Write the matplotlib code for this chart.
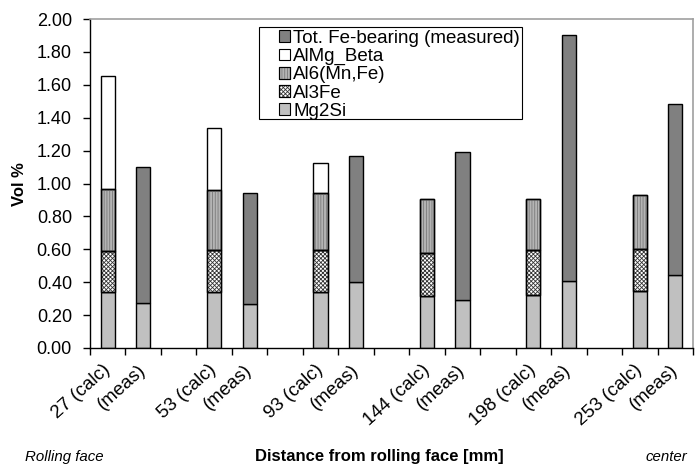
import matplotlib
matplotlib.use("Agg")
import matplotlib.pyplot as plt
import numpy as np
from matplotlib.patches import Patch, Rectangle
from matplotlib.legend_handler import HandlerTuple

plt.rcParams['font.family'] = ['Liberation Sans', 'DejaVu Sans']
plt.rcParams['hatch.linewidth'] = 0.6

labels = ["27 (calc)", "(meas)", "", "53 (calc)", "(meas)", "",
          "93 (calc)", "(meas)", "", "144 (calc)", "(meas)", "",
          "198 (calc)", "(meas)", "", "253 (calc)", "(meas)"]

mg2si = [0.342, 0.272, 0, 0.342, 0.267, 0, 0.338, 0.399, 0,
         0.314, 0.292, 0, 0.320, 0.405, 0, 0.345, 0.442]
al3fe = [0.250, 0, 0, 0.254, 0, 0, 0.258, 0, 0,
         0.262, 0, 0, 0.274, 0, 0, 0.259, 0]
al6 = [0.373, 0, 0, 0.362, 0, 0, 0.346, 0, 0,
       0.332, 0, 0, 0.310, 0, 0, 0.328, 0]
beta = [0.687, 0, 0, 0.379, 0, 0, 0.185, 0, 0,
        0, 0, 0, 0, 0, 0, 0, 0]
tot_fe = [0, 0.826, 0, 0, 0.675, 0, 0, 0.768, 0,
          0, 0.898, 0, 0, 1.498, 0, 0, 1.043]

series = [
    ("Mg2Si", mg2si, "#c0c0c0", None, None),
    ("Al3Fe", al3fe, "#ffffff", "xxxxxxxx", "#333333"),
    ("Al6(Mn,Fe)", al6, "#b4b4b4", "||||||", "#7a7a7a"),
    ("AlMg_Beta", beta, "#ffffff", None, None),
    ("Tot. Fe-bearing (measured)", tot_fe, "#808080", None, None),
]

fig = plt.figure(figsize=(6.97, 4.68), dpi=100)
ax = fig.add_axes([90/697, (468-348)/468, (693-90)/697, (348-19)/468])

x = np.arange(len(labels))
w = 0.4
bottom = np.zeros(len(labels))
handles = {}
for name, vals, fc, hatch, hc in series:
    vals = np.array(vals, dtype=float)
    m = vals > 0
    ax.bar(x[m], vals[m], w, bottom=bottom[m], color=fc, edgecolor='black',
           linewidth=1.0, zorder=2)
    if hatch:
        ax.bar(x[m], vals[m], w, bottom=bottom[m], color='none', edgecolor=hc,
               linewidth=0, hatch=hatch, zorder=3)
        ax.bar(x[m], vals[m], w, bottom=bottom[m], color='none', edgecolor='black',
               linewidth=1.0, zorder=4)
        h = (Patch(facecolor=fc, edgecolor='black', linewidth=0.8),
             Patch(facecolor='none', edgecolor=hc, linewidth=0, hatch=hatch),
             Patch(facecolor='none', edgecolor='black', linewidth=0.8))
    else:
        h = (Patch(facecolor=fc, edgecolor='black', linewidth=0.8),)
    handles[name] = h
    bottom = bottom + vals

# legend frame (drawn separately so its padding matches the reference)
ax.add_patch(Rectangle((0.2803, 0.696), 0.7164 - 0.2803, 0.9757 - 0.696,
                       transform=ax.transAxes, facecolor='white',
                       edgecolor='black', linewidth=0.8, zorder=9))

order = ["Tot. Fe-bearing (measured)", "AlMg_Beta", "Al6(Mn,Fe)", "Al3Fe", "Mg2Si"]
leg = ax.legend([handles[n] for n in order], order,
                handler_map={tuple: HandlerTuple(ndivide=1, pad=0)},
                loc='upper left', bbox_to_anchor=((279 - 90) / 603, (348 - 30) / 329),
                borderaxespad=0, frameon=False,
                fontsize=13.5, handlelength=0.6, handleheight=0.6,
                handletextpad=0.15, labelspacing=0.06, borderpad=0.0)
leg.set_zorder(10)

ax.set_xlim(-0.5, len(labels) - 0.5)
ax.set_ylim(0, 2.0)
ax.set_yticks(np.arange(0, 2.01, 0.2))
ax.set_yticklabels([f"{v:.2f}" for v in np.arange(0, 2.01, 0.2)], fontsize=13)
ax.tick_params(axis='y', direction='out', length=5, width=1, pad=8)

ax.set_xticks(x)
ax.set_xticklabels(labels, rotation=42, ha='right', va='center',
                   rotation_mode='anchor', fontsize=13.5)
ax.tick_params(axis='x', which='major', length=0, pad=14)
ax.set_xticks(np.arange(-0.5, len(labels), 1.0), minor=True)
ax.tick_params(axis='x', which='minor', direction='out', length=5, width=1)

for s in ['left', 'bottom']:
    ax.spines[s].set_color('black')
    ax.spines[s].set_linewidth(1)
for s in ['top', 'right']:
    ax.spines[s].set_color('#a0a0a0')
    ax.spines[s].set_linewidth(1.2)

fig.text(20/697, 1 - 184/468, "Vol %", rotation=90, ha='center', va='center',
         fontsize=12, fontweight='bold')
fig.text(379/697, 1 - 456/468, "Distance from rolling face [mm]", ha='center',
         va='center', fontsize=12, fontweight='bold')
fig.text(25/697, 1 - 457/468, "Rolling face", ha='left', va='center',
         fontsize=10.8, style='italic')
fig.text(687/697, 1 - 457/468, "center", ha='right', va='center',
         fontsize=10.8, style='italic')

fig.savefig("out.png", dpi=100)
